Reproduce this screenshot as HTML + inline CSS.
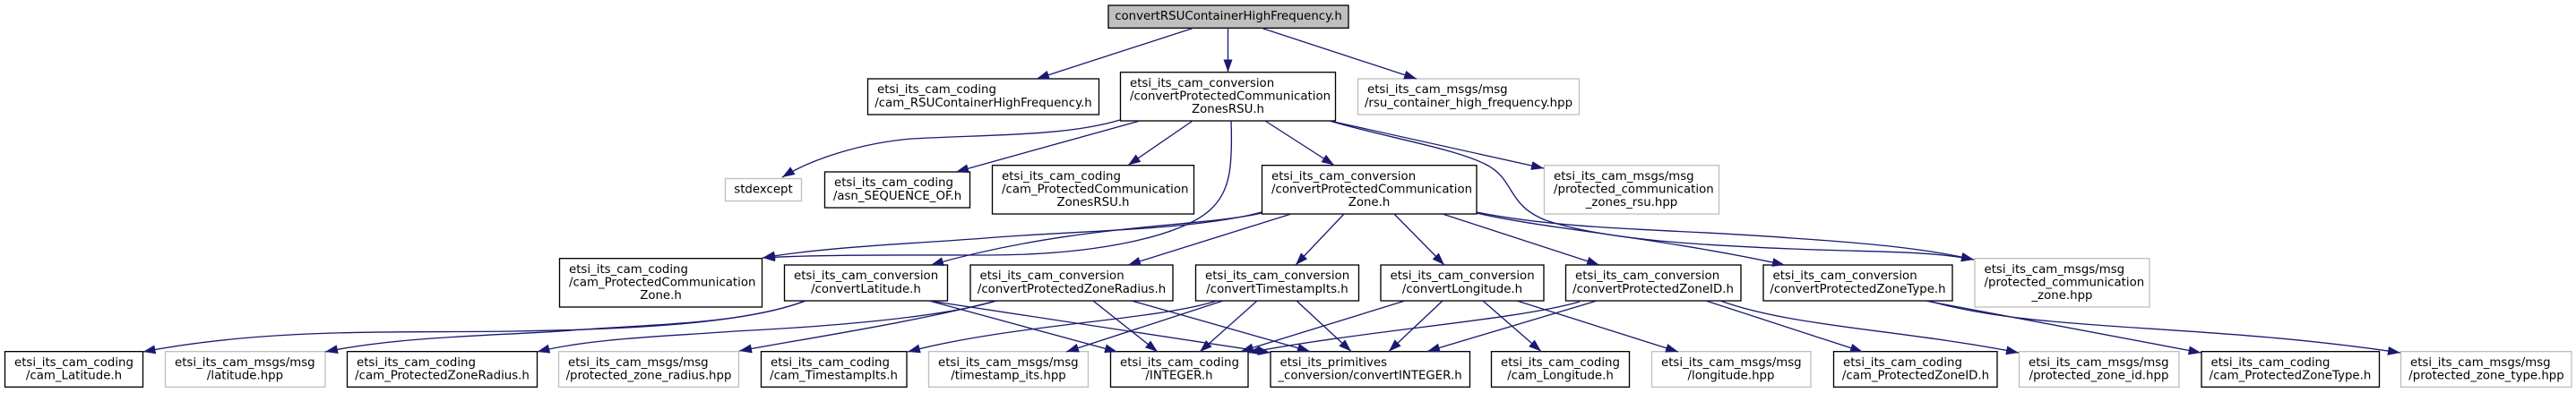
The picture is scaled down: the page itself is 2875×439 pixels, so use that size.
<!DOCTYPE html>
<html><head><meta charset="utf-8"><style>html,body{margin:0;padding:0;background:#fff}svg{display:block}
text{font-family:"DejaVu Sans",sans-serif;font-size:13.33px;fill:#000}
rect{fill:#fff;stroke-width:1.33}
.b{stroke:#000}.g{stroke:#bfbfbf}
.e path{fill:none;stroke:#191970;stroke-width:1.33;marker-end:url(#a)}
</style></head><body>
<svg width="2875" height="439" viewBox="0 0 2875 439" xmlns="http://www.w3.org/2000/svg">
<defs><marker id="a" markerUnits="userSpaceOnUse" markerWidth="15" markerHeight="11" refX="14" refY="5" orient="auto"><path d="M0,0L14,5L0,10z" fill="#191970"/></marker></defs>
<rect x="1237" y="6" width="268" height="25.33" class="b" style="fill:#bfbfbf"/>
<text x="1371" y="22" text-anchor="middle">convertRSUContainerHighFrequency.h</text>

<rect x="968.5" y="88" width="258" height="40" class="b"/>
<text x="979" y="104">etsi_its_cam_coding</text><text x="1097.5" y="119" text-anchor="middle">/cam_RSUContainerHighFrequency.h</text>
<rect x="1250.5" y="80.7" width="240" height="54.3" class="b"/>
<text x="1261" y="97">etsi_its_cam_conversion</text><text x="1261" y="111.5">/convertProtectedCommunication</text><text x="1370.5" y="126" text-anchor="middle">ZonesRSU.h</text>
<rect x="1515.5" y="88" width="247" height="40" class="g"/>
<text x="1526" y="104">etsi_its_cam_msgs/msg</text><text x="1639" y="119" text-anchor="middle">/rsu_container_high_frequency.hpp</text>

<rect x="809.5" y="199.5" width="85" height="25" class="g"/>
<text x="852" y="215.5" text-anchor="middle">stdexcept</text>
<rect x="920.5" y="192" width="162" height="40" class="b"/>
<text x="931" y="208">etsi_its_cam_coding</text><text x="1001.5" y="223" text-anchor="middle">/asn_SEQUENCE_OF.h</text>
<rect x="1107.5" y="184.67" width="225" height="54.33" class="b"/>
<text x="1118" y="201">etsi_its_cam_coding</text><text x="1118" y="215.5">/cam_ProtectedCommunication</text><text x="1220" y="230" text-anchor="middle">ZonesRSU.h</text>
<rect x="1408.5" y="184.67" width="239.5" height="54.33" class="b"/>
<text x="1419" y="201">etsi_its_cam_conversion</text><text x="1419" y="215.5">/convertProtectedCommunication</text><text x="1528" y="230" text-anchor="middle">Zone.h</text>
<rect x="1723.5" y="184.67" width="195" height="54.33" class="g"/>
<text x="1734" y="201">etsi_its_cam_msgs/msg</text><text x="1734" y="215.5">/protected_communication</text><text x="1821" y="230" text-anchor="middle">_zones_rsu.hpp</text>

<rect x="624.5" y="288.67" width="226" height="54.33" class="b"/>
<text x="635" y="305">etsi_its_cam_coding</text><text x="635" y="319.5">/cam_ProtectedCommunication</text><text x="737.5" y="334" text-anchor="middle">Zone.h</text>
<rect x="875.5" y="296" width="182" height="40" class="b"/>
<text x="886" y="312">etsi_its_cam_conversion</text><text x="966.5" y="327" text-anchor="middle">/convertLatitude.h</text>
<rect x="1083" y="296" width="226" height="40" class="b"/>
<text x="1093.5" y="312">etsi_its_cam_conversion</text><text x="1196" y="327" text-anchor="middle">/convertProtectedZoneRadius.h</text>
<rect x="1334.5" y="296" width="182" height="40" class="b"/>
<text x="1345" y="312">etsi_its_cam_conversion</text><text x="1425.5" y="327" text-anchor="middle">/convertTimestampIts.h</text>
<rect x="1541" y="296" width="182" height="40" class="b"/>
<text x="1551.5" y="312">etsi_its_cam_conversion</text><text x="1632" y="327" text-anchor="middle">/convertLongitude.h</text>
<rect x="1747.5" y="296" width="195.5" height="40" class="b"/>
<text x="1758" y="312">etsi_its_cam_conversion</text><text x="1845" y="327" text-anchor="middle">/convertProtectedZoneID.h</text>
<rect x="1968" y="296" width="211" height="40" class="b"/>
<text x="1978.5" y="312">etsi_its_cam_conversion</text><text x="2073.5" y="327" text-anchor="middle">/convertProtectedZoneType.h</text>
<rect x="2204" y="288.67" width="195" height="54.33" class="g"/>
<text x="2214.5" y="305">etsi_its_cam_msgs/msg</text><text x="2214.5" y="319.5">/protected_communication</text><text x="2301.5" y="334" text-anchor="middle">_zone.hpp</text>

<rect x="5.5" y="392.67" width="154" height="39.67" class="b"/>
<text x="16" y="409">etsi_its_cam_coding</text><text x="82.5" y="423.5" text-anchor="middle">/cam_Latitude.h</text>
<rect x="184.5" y="392.67" width="178.5" height="39.67" class="g"/>
<text x="195" y="409">etsi_its_cam_msgs/msg</text><text x="273.5" y="423.5" text-anchor="middle">/latitude.hpp</text>
<rect x="387.5" y="392.67" width="212" height="39.67" class="b"/>
<text x="398" y="409">etsi_its_cam_coding</text><text x="493.5" y="423.5" text-anchor="middle">/cam_ProtectedZoneRadius.h</text>
<rect x="623.5" y="392.67" width="201" height="39.67" class="g"/>
<text x="634" y="409">etsi_its_cam_msgs/msg</text><text x="724" y="423.5" text-anchor="middle">/protected_zone_radius.hpp</text>
<rect x="849.5" y="392.67" width="162.5" height="39.67" class="b"/>
<text x="860" y="409">etsi_its_cam_coding</text><text x="930.5" y="423.5" text-anchor="middle">/cam_TimestampIts.h</text>
<rect x="1036.5" y="392.67" width="178" height="39.67" class="g"/>
<text x="1047" y="409">etsi_its_cam_msgs/msg</text><text x="1125.5" y="423.5" text-anchor="middle">/timestamp_its.hpp</text>
<rect x="1239.5" y="392.67" width="153.5" height="39.67" class="b"/>
<text x="1250" y="409">etsi_its_cam_coding</text><text x="1316" y="423.5" text-anchor="middle">/INTEGER.h</text>
<rect x="1418" y="392.67" width="222.5" height="39.67" class="b"/>
<text x="1428.5" y="409">etsi_its_primitives</text><text x="1529" y="423.5" text-anchor="middle">_conversion/convertINTEGER.h</text>
<rect x="1664.5" y="392.67" width="154" height="39.67" class="b"/>
<text x="1675" y="409">etsi_its_cam_coding</text><text x="1741.5" y="423.5" text-anchor="middle">/cam_Longitude.h</text>
<rect x="1843.5" y="392.67" width="177.5" height="39.67" class="g"/>
<text x="1854" y="409">etsi_its_cam_msgs/msg</text><text x="1932" y="423.5" text-anchor="middle">/longitude.hpp</text>
<rect x="2046.5" y="392.67" width="182.5" height="39.67" class="b"/>
<text x="2057" y="409">etsi_its_cam_coding</text><text x="2138" y="423.5" text-anchor="middle">/cam_ProtectedZoneID.h</text>
<rect x="2253.5" y="392.67" width="178.5" height="39.67" class="g"/>
<text x="2264" y="409">etsi_its_cam_msgs/msg</text><text x="2342.5" y="423.5" text-anchor="middle">/protected_zone_id.hpp</text>
<rect x="2457" y="392.67" width="198.5" height="39.67" class="b"/>
<text x="2467.5" y="409">etsi_its_cam_coding</text><text x="2556" y="423.5" text-anchor="middle">/cam_ProtectedZoneType.h</text>
<rect x="2679.5" y="392.67" width="190.5" height="39.67" class="g"/>
<text x="2690" y="409">etsi_its_cam_msgs/msg</text><text x="2775" y="423.5" text-anchor="middle">/protected_zone_type.hpp</text>

<g class="e">
<path d="M1333,31L1157,88"/>
<path d="M1370.5,31L1370.5,80.5"/>
<path d="M1407,31L1581,88"/>
<path d="M1250,134C1190,152 1110,150 1017,155C960,160 905,178 873,198"/>
<path d="M1272,135L1067,192"/>
<path d="M1331,135L1259,184.5"/>
<path d="M1412,135L1489,184.5"/>
<path d="M1484,135L1723,188"/>
<path d="M1374,135C1376,190 1372,215 1350,235C1320,262 1230,285 1100,285C1020,285 920,284 851,288"/>
<path d="M1484,135C1540,152 1620,165 1657,183C1692,200 1680,228 1725,246C1790,268 1900,274 2000,278C2100,282 2150,280 2203,290"/>
<path d="M1408,237C1330,258 1190,258 1100,266C1020,272 920,276 851,288"/>
<path d="M1408,238C1340,254 1200,250 1039,296"/>
<path d="M1441,239L1259,296"/>
<path d="M1500,239L1446,296"/>
<path d="M1556,239L1612,296"/>
<path d="M1610,239L1785,296"/>
<path d="M1648,237C1750,258 1880,256 2000,266C2090,272 2150,278 2203,290"/>
<path d="M1648,238C1720,255 1850,265 1992,296"/>
<path d="M899,336C830,362 700,368 574,370C440,372 300,366 159.5,393"/>
<path d="M899,336C830,362 730,362 638,369C560,375 450,375 363,393"/>
<path d="M1037,336L1247,393"/>
<path d="M1037,336L1418,394"/>
<path d="M1112,336C1050,355 920,365 820,370C740,376 660,378 599.5,393"/>
<path d="M1112,336C1020,360 900,378 825,392"/>
<path d="M1220,336L1292,393"/>
<path d="M1263,336L1462,392.5"/>
<path d="M1358,336C1290,358 1130,362 1013,393"/>
<path d="M1365,336L1190,393"/>
<path d="M1403,336L1339,393"/>
<path d="M1447,336L1508,392.5"/>
<path d="M1568,336L1385,392.5"/>
<path d="M1610,336L1550,392.5"/>
<path d="M1655,336L1720,392.5"/>
<path d="M1693,336L1873,393"/>
<path d="M1763,337C1690,358 1530,368 1393,394"/>
<path d="M1782,336L1593,392.5"/>
<path d="M1904,336L2079,393"/>
<path d="M1920,336C2000,365 2120,368 2253,394"/>
<path d="M2149,336L2456.6,394"/>
<path d="M2152,336C2280,372 2450,360 2679,394"/>
</g>
</svg>
</body></html>
